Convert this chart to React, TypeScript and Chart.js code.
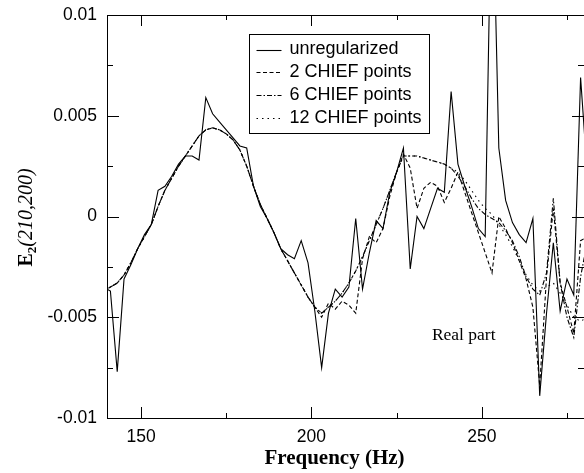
import React, { useEffect, useRef } from "react";
import { Chart, registerables } from "chart.js";

Chart.register(...registerables);

// Frequency samples (Hz)
const frequencies = [
  139, 141, 143, 145, 147, 149, 151, 153, 155, 157, 159, 161, 163, 165, 167, 169, 171, 173,
  175, 177, 179, 181, 183, 185, 187, 189, 191, 193, 195, 197, 199, 201, 203, 205, 207, 209,
  211, 213, 215, 217, 219, 221, 223, 225, 227, 229, 231, 233, 235, 237, 239, 241, 243, 245,
  247, 249, 251, 253, 255, 257, 259, 261, 263, 265, 267, 269, 271, 273, 275, 277, 279, 281,
];

const unregularized = [
  -0.0035, -0.0037, -0.0077, -0.0031, -0.0024, -0.0016, -0.0009, -0.0004, 0.0013, 0.0015, 0.0020, 0.0026,
  0.0030, 0.0030, 0.0028, 0.0059, 0.0051, 0.0047, 0.0043, 0.0039, 0.0035, 0.0034, 0.0015, 0.0005,
  -0.0001, -0.0008, -0.0016, -0.0019, -0.0021, -0.0012, -0.0023, -0.0047, -0.0075, -0.0048, -0.0036, -0.0040,
  -0.0035, -0.0001, -0.0036, -0.0018, -0.0002, -0.0006, 0.0012, 0.0022, 0.0034, -0.0026, 0.0000, -0.0006,
  0.0004, 0.0014, 0.0012, 0.0062, 0.0026, 0.0015, 0.0005, -0.0006, -0.0010, 0.0180, 0.0034, 0.0008,
  -0.0003, -0.0009, -0.0013, -0.0001, -0.0089, -0.0048, -0.0013, -0.0047, -0.0031, -0.0039, 0.0069, 0.0020,
];

const chief2 = [
  -0.0037, -0.0035, -0.0033, -0.0029, -0.0023, -0.0016, -0.0010, -0.0004, 0.0005, 0.0013, 0.0019, 0.0025,
  0.0030, 0.0035, 0.0040, 0.0043, 0.0044, 0.0043, 0.0041, 0.0038, 0.0033, 0.0025, 0.0015, 0.0006,
  -0.0001, -0.0008, -0.0016, -0.0022, -0.0028, -0.0034, -0.0040, -0.0045, -0.0050, -0.0043, -0.0046, -0.0042,
  -0.0044, -0.0048, -0.0021, -0.0010, -0.0013, -0.0006, 0.0010, 0.0022, 0.0031, 0.0024, 0.0004, 0.0014,
  0.0017, 0.0015, 0.0007, 0.0014, 0.0022, 0.0012, 0.0002, -0.0008, -0.0018, -0.0028, 0.0000, -0.0006,
  -0.0013, -0.0022, -0.0031, -0.0045, -0.0084, -0.0030, 0.0004, -0.0033, -0.0045, -0.0058, -0.0012, -0.0010,
];

const chief6 = [
  -0.0037, -0.0035, -0.0033, -0.0029, -0.0023, -0.0016, -0.0010, -0.0004, 0.0005, 0.0013, 0.0019, 0.0025,
  0.0030, 0.0035, 0.0040, 0.0043, 0.0044, 0.0043, 0.0041, 0.0038, 0.0033, 0.0025, 0.0015, 0.0006,
  -0.0001, -0.0008, -0.0016, -0.0022, -0.0028, -0.0034, -0.0040, -0.0045, -0.0048, -0.0045, -0.0042, -0.0038,
  -0.0033, -0.0027, -0.0020, -0.0012, -0.0004, 0.0004, 0.0013, 0.0022, 0.0030, 0.0030, 0.0030, 0.0029,
  0.0028, 0.0027, 0.0026, 0.0024, 0.0020, 0.0015, 0.0009, 0.0004, 0.0001, -0.0001, -0.0003, -0.0007,
  -0.0012, -0.0020, -0.0030, -0.0036, -0.0039, -0.0028, 0.0009, -0.0033, -0.0050, -0.0060, -0.0030, -0.0012,
];

const chief12 = [
  -0.0037, -0.0035, -0.0033, -0.0029, -0.0023, -0.0016, -0.0010, -0.0004, 0.0005, 0.0013, 0.0019, 0.0025,
  0.0030, 0.0035, 0.0040, 0.0043, 0.0044, 0.0043, 0.0041, 0.0038, 0.0033, 0.0025, 0.0015, 0.0006,
  -0.0001, -0.0008, -0.0016, -0.0022, -0.0028, -0.0034, -0.0040, -0.0045, -0.0048, -0.0045, -0.0042, -0.0038,
  -0.0033, -0.0027, -0.0020, -0.0012, -0.0004, 0.0004, 0.0013, 0.0022, 0.0030, 0.0030, 0.0030, 0.0029,
  0.0028, 0.0027, 0.0026, 0.0024, 0.0022, 0.0018, 0.0013, 0.0008, 0.0004, 0.0001, -0.0004, -0.0009,
  -0.0015, -0.0022, -0.0029, -0.0034, -0.0037, -0.0035, -0.0033, -0.0038, -0.0044, -0.0050, -0.0052, -0.0050,
];

const seriesLabels = ["unregularized", "2 CHIEF points", "6 CHIEF points", "12 CHIEF points"];
const xTicks = [150, 200, 250];
const xMinorTicks = [175, 225, 275];
const yTicks = [-0.01, -0.005, 0, 0.005, 0.01];
const yTickLabels = ["-0.01", "-0.005", "0", "0.005", "0.01"];
const yMinorTicks = [-0.0075, -0.0025, 0.0025, 0.0075];
const xTitle = "Frequency (Hz)";
const yTitleMain = "E";
const yTitleSub = "2";
const yTitleArgs = "(210,200)";
const annotationText = "Real part";
const annotationAt = { x: 244.7, y: -0.0059 };

const dashPatterns: number[][] = [[], [4, 2.5], [5, 2, 1.5, 2], [1.5, 4]];

const SERIF = "'Liberation Serif', 'Times New Roman', serif";
const SANS = "'Liberation Sans', Arial, sans-serif";

const framePlugin = {
  id: "frame",
  afterDraw(chart: any) {
    const { ctx, chartArea } = chart;
    const { left, top, right, bottom } = chartArea;
    const xs = chart.scales.x;
    const ys = chart.scales.y;
    ctx.save();
    ctx.strokeStyle = "#000";
    ctx.lineWidth = 1;
    // top border
    ctx.beginPath();
    ctx.moveTo(left, Math.round(top) + 0.5);
    ctx.lineTo(right, Math.round(top) + 0.5);
    ctx.stroke();
    // x ticks (inward, bottom and top)
    const xTick = (v: number, len: number) => {
      const px = Math.round(xs.getPixelForValue(v)) + 0.5;
      ctx.beginPath();
      ctx.moveTo(px, bottom);
      ctx.lineTo(px, bottom - len);
      ctx.moveTo(px, top);
      ctx.lineTo(px, top + len);
      ctx.stroke();
    };
    xTicks.forEach((v) => xTick(v, 11));
    xMinorTicks.forEach((v) => xTick(v, 5));
    // y ticks (inward, left and right)
    const yTick = (v: number, len: number) => {
      const py = Math.round(ys.getPixelForValue(v)) + 0.5;
      ctx.beginPath();
      ctx.moveTo(left, py);
      ctx.lineTo(left + len, py);
      ctx.moveTo(right, py);
      ctx.lineTo(right - len, py);
      ctx.stroke();
    };
    yTicks.forEach((v) => yTick(v, 12));
    yMinorTicks.forEach((v) => yTick(v, 6));

    // legend
    const bx = left + 142.5;
    const by = Math.round(top) + 19.5;
    const bw = 180;
    const bh = 99;
    ctx.fillStyle = "#fff";
    ctx.fillRect(bx, by, bw, bh);
    ctx.strokeStyle = "#000";
    ctx.lineWidth = 1;
    ctx.strokeRect(bx, by, bw, bh);
    ctx.font = "18px " + SANS;
    ctx.textBaseline = "middle";
    ctx.textAlign = "left";
    chart.data.datasets.forEach((ds: any, k: number) => {
      const ry = by + 15 + k * 22.7;
      ctx.save();
      ctx.setLineDash(ds.borderDash || []);
      ctx.lineWidth = ds.borderWidth;
      ctx.strokeStyle = ds.borderColor;
      ctx.beginPath();
      ctx.moveTo(bx + 7, Math.round(ry) + 0.5);
      ctx.lineTo(bx + 32, Math.round(ry) + 0.5);
      ctx.stroke();
      ctx.restore();
      ctx.fillStyle = "#000";
      ctx.fillText(ds.label, bx + 40, ry);
    });

    // annotation
    ctx.font = "17.5px " + SERIF;
    ctx.textAlign = "center";
    ctx.textBaseline = "middle";
    ctx.fillStyle = "#000";
    ctx.fillText(annotationText, xs.getPixelForValue(annotationAt.x), ys.getPixelForValue(annotationAt.y));

    // x title
    ctx.font = "bold 21px " + SERIF;
    ctx.textAlign = "center";
    ctx.textBaseline = "middle";
    ctx.fillText(xTitle, left + 227.5, bottom + 41);

    // y title (rotated, mixed fonts)
    const cx = 25;
    const cy = (top + bottom) / 2 + 1;
    ctx.translate(cx, cy);
    ctx.rotate(-Math.PI / 2);
    const fMain = "bold 20px " + SERIF;
    const fSub = "bold 13px " + SERIF;
    const fArgs = "italic 20px " + SERIF;
    ctx.font = fMain;
    const w1 = ctx.measureText(yTitleMain).width;
    ctx.font = fSub;
    const w2 = ctx.measureText(yTitleSub).width;
    ctx.font = fArgs;
    const w3 = ctx.measureText(yTitleArgs).width;
    let x0 = -(w1 + w2 + w3) / 2;
    ctx.textAlign = "left";
    ctx.textBaseline = "alphabetic";
    const base = 7;
    ctx.font = fMain;
    ctx.fillText(yTitleMain, x0, base);
    x0 += w1;
    ctx.font = fSub;
    ctx.fillText(yTitleSub, x0, base + 4);
    x0 += w2;
    ctx.font = fArgs;
    ctx.fillText(yTitleArgs, x0, base);
    ctx.restore();
  },
};

export default function App() {
  const ref = useRef<HTMLCanvasElement>(null);
  useEffect(() => {
    document.body.style.margin = "0";
    const series = [unregularized, chief2, chief6, chief12];
    const chart = new Chart(ref.current as HTMLCanvasElement, {
      type: "line",
      data: {
        datasets: series.map((ys, k) => ({
          label: seriesLabels[k],
          data: frequencies.map((x, i) => ({ x, y: ys[i] })),
          borderColor: "#000",
          backgroundColor: "#000",
          borderWidth: 1.1,
          borderDash: dashPatterns[k],
          pointRadius: 0,
          fill: false,
          tension: 0,
        })),
      },
      options: {
        responsive: false,
        animation: false,
        devicePixelRatio: 1,
        layout: { padding: { top: 15, left: 0, right: 0, bottom: 0 } },
        plugins: { legend: { display: false }, tooltip: { enabled: false } },
        scales: {
          x: {
            type: "linear",
            min: 140,
            max: 280,
            grid: { display: false, drawTicks: false },
            border: { display: true, color: "#000", width: 1 },
            afterBuildTicks: (s: any) => {
              s.ticks = xTicks.map((v) => ({ value: v }));
            },
            afterFit: (s: any) => {
              s.height = 55;
              s.paddingLeft = 0;
              s.paddingRight = 0;
            },
            ticks: {
              autoSkip: false,
              maxRotation: 0,
              padding: 8.5,
              color: "#000",
              font: { family: SANS, size: 17.5 },
              callback: (v: any) => String(v),
            },
            title: { display: false },
          },
          y: {
            type: "linear",
            min: -0.01,
            max: 0.01,
            grid: { display: false, drawTicks: false },
            border: { display: true, color: "#000", width: 1 },
            afterBuildTicks: (s: any) => {
              s.ticks = yTicks.map((v) => ({ value: v }));
            },
            afterFit: (s: any) => {
              s.width = 107;
              s.paddingTop = 0;
              s.paddingBottom = 0;
            },
            ticks: {
              autoSkip: false,
              padding: 10,
              color: "#000",
              font: { family: SANS, size: 17.5 },
              callback: (v: any) => {
                const idx = yTicks.findIndex((t) => Math.abs(t - v) < 1e-9);
                return idx >= 0 ? yTickLabels[idx] : "";
              },
            },
          },
        },
      },
      plugins: [framePlugin],
    } as any);
    return () => chart.destroy();
  }, []);
  return <canvas ref={ref} width={584} height={473} style={{ display: "block" }} />;
}
